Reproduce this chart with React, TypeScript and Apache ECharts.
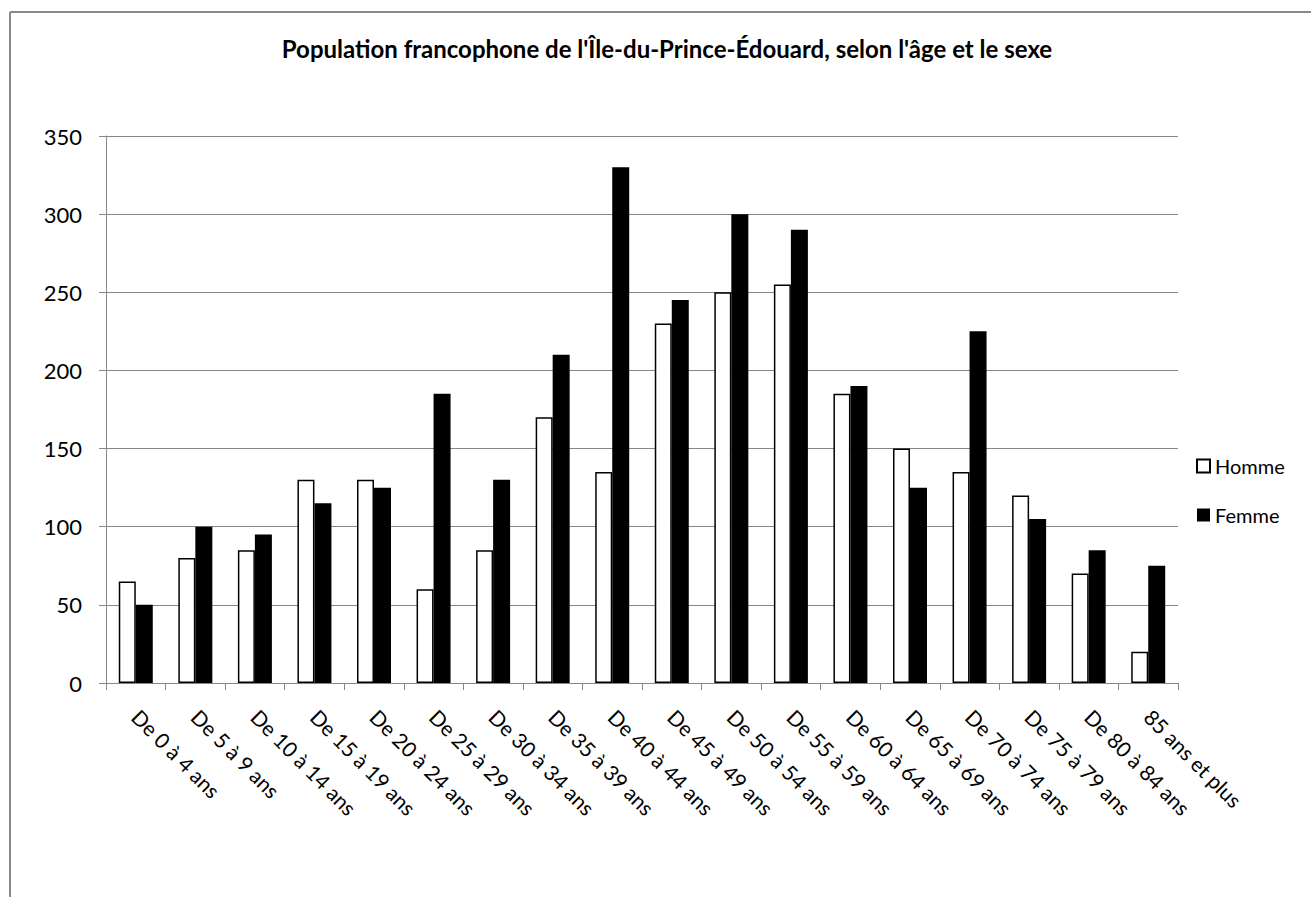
import React, { useEffect, useRef } from "react";
import * as echarts from "echarts";

const categories = [
  "De 0 à 4 ans",
  "De 5 à 9 ans",
  "De 10 à 14 ans",
  "De 15 à 19 ans",
  "De 20 à 24 ans",
  "De 25 à 29 ans",
  "De 30 à 34 ans",
  "De 35 à 39 ans",
  "De 40 à 44 ans",
  "De 45 à 49 ans",
  "De 50 à 54 ans",
  "De 55 à 59 ans",
  "De 60 à 64 ans",
  "De 65 à 69 ans",
  "De 70 à 74 ans",
  "De 75 à 79 ans",
  "De 80 à 84 ans",
  "85 ans et plus",
];

const homme = [65, 80, 85, 130, 130, 60, 85, 170, 135, 230, 250, 255, 185, 150, 135, 120, 70, 20];
const femme = [50, 100, 95, 115, 125, 185, 130, 210, 330, 245, 300, 290, 190, 125, 225, 105, 85, 75];

const seriesNames = ["Homme", "Femme"];
const titleText = "Population francophone de l'Île-du-Prince-Édouard, selon l'âge et le sexe";

const FONT = "Lato";

export default function App() {
  const ref = useRef<HTMLDivElement>(null);

  useEffect(() => {
    document.body.style.margin = "0";
    if (!ref.current) return;
    const chart = echarts.init(ref.current, null, { renderer: "svg" });
    chart.setOption({
      animation: false,
      backgroundColor: "#ffffff",
      textStyle: { fontFamily: FONT },
      title: {
        text: titleText,
        left: 662,
        top: 31,
        textAlign: "center",
        textStyle: { fontFamily: FONT, fontWeight: "bold", fontSize: 24, color: "#000" },
      },
      graphic: [
        {
          type: "line",
          shape: { x1: 10, y1: 12, x2: 1311, y2: 12 },
          style: { stroke: "#8a8a8a", lineWidth: 2 },
          silent: true,
        },
        {
          type: "line",
          shape: { x1: 10, y1: 12, x2: 10, y2: 897 },
          style: { stroke: "#8a8a8a", lineWidth: 2 },
          silent: true,
        },
      ],
      legend: {
        orient: "vertical",
        left: 1196,
        top: 456,
        padding: 0,
        itemWidth: 13,
        itemHeight: 13,
        itemGap: 29,
        icon: "rect",
        textStyle: { fontFamily: FONT, fontSize: 20, color: "#000" },
        data: seriesNames,
      },
      grid: {
        left: 106,
        right: 133,
        top: 136,
        bottom: 214,
        containLabel: false,
      },
      xAxis: {
        type: "category",
        data: categories,
        axisLine: { show: true, lineStyle: { color: "#868686", width: 1 } },
        axisTick: { show: true, length: 7, lineStyle: { color: "#868686" } },
        axisLabel: {
          rotate: -45,
          margin: 30,
          fontFamily: FONT,
          fontSize: 21,
          color: "#000",
          interval: 0,
        },
      },
      yAxis: {
        type: "value",
        min: 0,
        max: 350,
        interval: 50,
        axisLine: { show: true, lineStyle: { color: "#868686", width: 1 } },
        axisTick: { show: true, length: 7, lineStyle: { color: "#868686" } },
        axisLabel: { margin: 24, fontFamily: FONT, fontSize: 22, color: "#000" },
        splitLine: { show: true, lineStyle: { color: "#868686", width: 1 } },
      },
      series: [
        {
          name: seriesNames[0],
          type: "bar",
          data: homme,
          barWidth: 17,
          barGap: "0%",
          itemStyle: { color: "#ffffff", borderColor: "#000000", borderWidth: 1.5 },
        },
        {
          name: seriesNames[1],
          type: "bar",
          data: femme,
          barWidth: 17,
          barGap: "0%",
          itemStyle: { color: "#000000", borderColor: "#000000", borderWidth: 0 },
        },
      ],
    });
    return () => chart.dispose();
  }, []);

  return <div ref={ref} style={{ width: 1311, height: 897 }} />;
}
